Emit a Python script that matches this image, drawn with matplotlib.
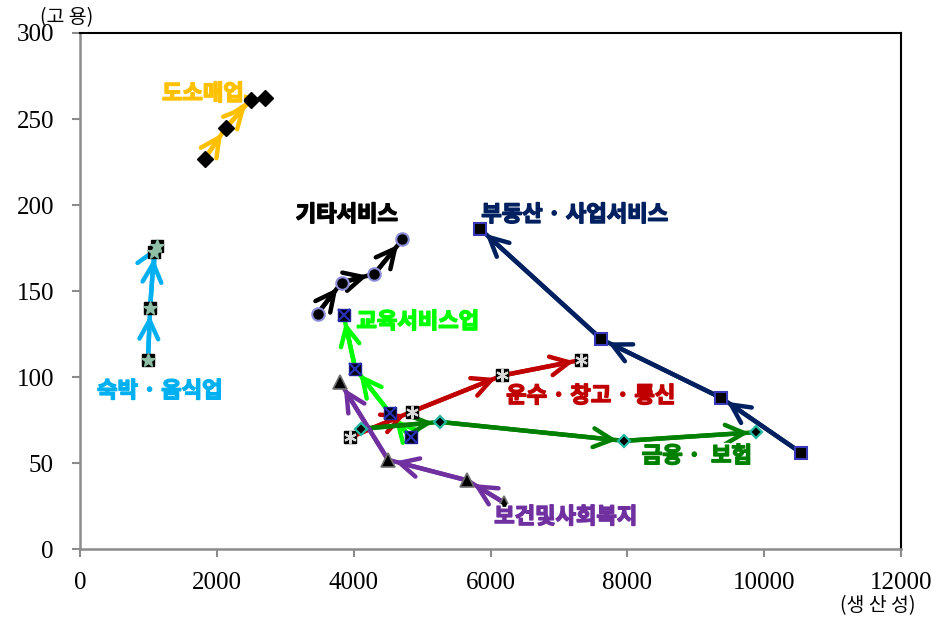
import matplotlib
matplotlib.use("Agg")
import matplotlib.pyplot as plt
import matplotlib.patheffects as pe

# Productivity (x) vs employment (y) paths by industry, in chronological order
retail_x = [1820, 2130, 2490, 2700]
retail_y = [227, 245, 261, 262]
lodging_x = [990, 1020, 1080, 1120]
lodging_y = [110, 140, 173, 176]
other_x = [3470, 3820, 4300, 4710]
other_y = [137, 155, 160, 180]
edu_x = [4830, 4530, 4020, 3850]
edu_y = [65, 79, 105, 136]
transport_x = [3940, 4850, 6170, 7320]
transport_y = [65, 80, 101, 110]
finance_x = [4110, 5260, 7950, 9880]
finance_y = [70, 74, 63, 68]
realestate_x = [10540, 9370, 7620, 5850]
realestate_y = [56, 88, 122, 186]
health_x = [6200, 5660, 4500, 3800]
health_y = [27, 40, 52, 97]

x_ticks = [0, 2000, 4000, 6000, 8000, 10000, 12000]
y_ticks = [0, 50, 100, 150, 200, 250, 300]

KFONT = ["Noto Sans CJK KR", "DejaVu Sans"]

fig = plt.figure(figsize=(9.38, 6.22), dpi=100)
ax = fig.add_axes([0.0856, 0.1169, 0.8750, 0.8301])
ax.set_xlim(0, 12000)
ax.set_ylim(0, 300)


def draw_path(xs, ys, color, marker, ms, mfc, mec, mew, overlay=None):
    ax.plot(xs, ys, color=color, lw=3.2, zorder=2, solid_capstyle="round")
    for i in range(len(xs) - 1):
        ax.annotate(
            "", xy=(xs[i + 1], ys[i + 1]), xytext=(xs[i], ys[i]),
            arrowprops=dict(arrowstyle="->,head_length=0.9,head_width=0.45",
                            color=color, lw=3.2, shrinkA=0, shrinkB=5,
                            mutation_scale=15, capstyle="round",
                            joinstyle="round"),
            zorder=2)
    ax.plot(xs, ys, ls="none", marker=marker, ms=ms, mfc=mfc, mec=mec,
            mew=mew, zorder=3)
    if overlay is not None:
        omarker, oms, ocolor, olw = overlay
        ax.plot(xs, ys, ls="none", marker=omarker, ms=oms, mfc=ocolor,
                mec=ocolor, mew=olw, zorder=4)


draw_path(retail_x, retail_y, "#FFC000", "D", 8, "black", "black", 1)
draw_path(lodging_x, lodging_y, "#00B0F0", "s", 8, "black", "black", 1,
          overlay=("*", 10, "#8FBFA6", 0.8))
draw_path(other_x, other_y, "black", "o", 9, "black", "#8C8CD8", 1.5)
draw_path(edu_x, edu_y, "#00FF00", "s", 9, "black", "#202090", 1,
          overlay=("x", 8, "#2830B8", 1.6))
draw_path(transport_x, transport_y, "#C00000", "s", 9, "black", "black", 1,
          overlay=((6, 2, 0), 9, "#D8D8D8", 1.5))
draw_path(finance_x, finance_y, "#008000", "D", 6, "black", "#20B8A0", 1.6)
draw_path(realestate_x, realestate_y, "#002060", "s", 9, "black", "#3838B8", 1.5)
draw_path(health_x, health_y, "#7030A0", "^", 10, "black", "#707070", 1.2)

labels = [
    ("도소매업", 1794, 264.7, "#FFC000"),
    ("숙박 · 음식업", 1165, 92.0, "#00B0F0"),
    ("기타서비스", 3899, 194.4, "black"),
    ("교육서비스업", 4937, 132.2, "#00FF00"),
    ("부동산 · 사업서비스", 7232, 194.4, "#002060"),
    ("운수 · 창고 · 통신", 7466, 89.1, "#C00000"),
    ("금융 ·  보험", 9016, 54.2, "#008000"),
    ("보건및사회복지", 7101, 18.8, "#7030A0"),
]
for text, lx, ly, col in labels:
    # white halo, then a thin same-colour stroke to thicken the glyphs
    effects = [pe.Stroke(linewidth=3.5, foreground="white"),
               pe.Stroke(linewidth=1.1, foreground=col),
               pe.Normal()]
    ax.text(lx, ly, text, color=col, fontsize=16, fontweight="bold",
            family=KFONT, ha="center", va="center", zorder=6,
            path_effects=effects)

# Axes styling: grey left/bottom spines, black top/right frame
for side in ("left", "bottom"):
    ax.spines[side].set_color("#8C8C8C")
    ax.spines[side].set_linewidth(1.8)
for side in ("top", "right"):
    ax.spines[side].set_color("black")
    ax.spines[side].set_linewidth(1.5)

ax.set_xticks(x_ticks)
ax.set_yticks(y_ticks)
ax.set_xticklabels([str(v) for v in x_ticks])
ax.set_yticklabels([str(v) for v in y_ticks])
ax.tick_params(direction="out", length=6, width=1.5, color="#8C8C8C",
               labelsize=18)
ax.tick_params(axis="y", pad=13)
ax.tick_params(axis="x", pad=10)
for lab in ax.get_xticklabels() + ax.get_yticklabels():
    lab.set_family("Liberation Serif")

fig.text(67 / 938, 1 - 18 / 622, "(고 용)", family=KFONT, fontsize=14,
         ha="center", va="center")
fig.text(878 / 938, 1 - 606 / 622, "(생 산 성)", family=KFONT, fontsize=14,
         ha="center", va="center")

fig.savefig("out.png", dpi=100)
